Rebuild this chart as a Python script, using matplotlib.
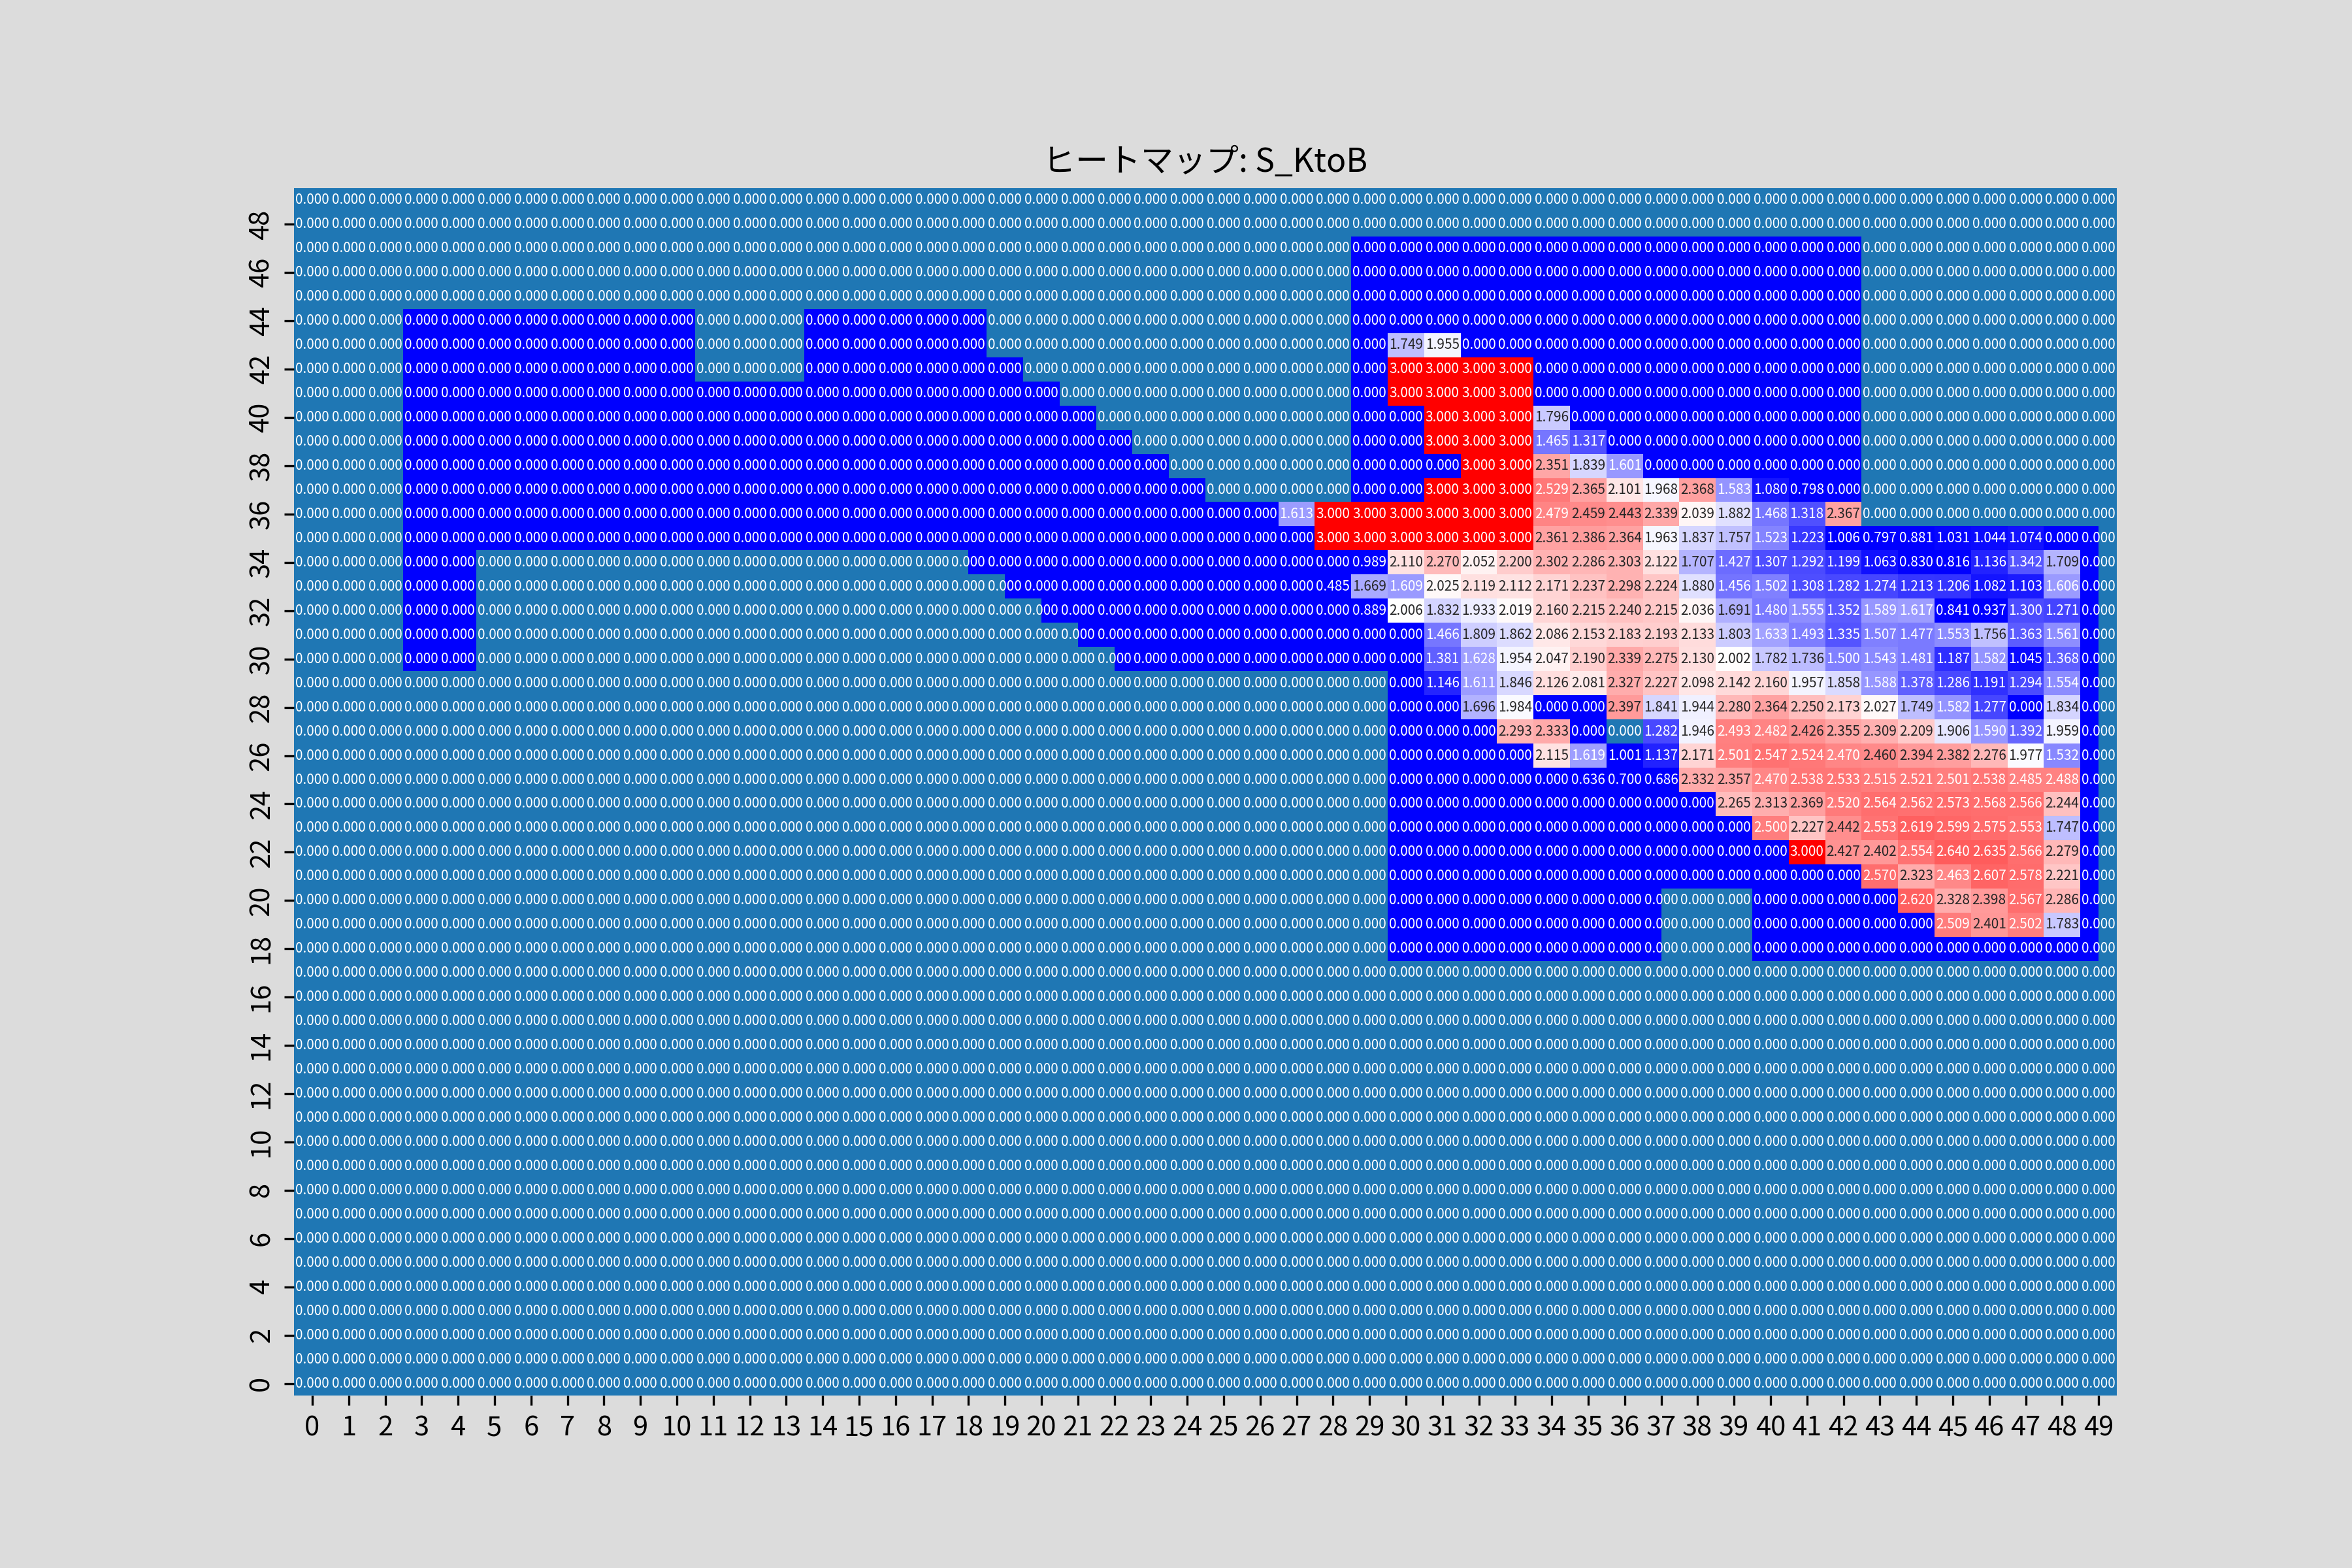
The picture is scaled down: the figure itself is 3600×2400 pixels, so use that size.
"""
Mapa de calor S_KtoB: dominio (azul) sobre fondo fuera de dominio, con valores anotados.
"""

import matplotlib
matplotlib.use("Agg")
import matplotlib.pyplot as plt
import numpy as np
from matplotlib.colors import ListedColormap, Normalize, to_rgb

plt.rcParams["font.family"] = ["Noto Sans CJK JP", "DejaVu Sans"]

N_FILAS = 50
N_COLS = 50
TITULO = "ヒートマップ: S_KtoB"

COLOR_FONDO_FIG = "#dcdcdc"
COLOR_FUERA = "#1f77b4"
COLOR_DOMINIO = "#0000ff"
VMIN, VMAX = 1.0, 3.0

# =============================================================================
# DATOS
# =============================================================================

# tramos del dominio por fila (columna inicial, columna final exclusiva; hay medias celdas)
filas_dominio = list(range(18, 48))
tramos_dominio = [
    [(30, 37.5), (40, 49.5)],                 # 18
    [(30, 37.5), (40, 49.5)],                 # 19
    [(30, 37.5), (40, 49.5)],                 # 20
    [(30, 49.5)],                             # 21
    [(30, 49.5)],                             # 22
    [(30, 49.5)],                             # 23
    [(30, 49.5)],                             # 24
    [(30, 49.5)],                             # 25
    [(30, 49.5)],                             # 26
    [(30, 36), (37, 49.5)],                   # 27
    [(30, 49.5)],                             # 28
    [(30, 49.5)],                             # 29
    [(3, 5), (22.5, 49.5)],                   # 30
    [(3, 5), (21.5, 49.5)],                   # 31
    [(3, 5), (20.5, 49.5)],                   # 32
    [(3, 5), (19.5, 49.5)],                   # 33
    [(3, 5), (18.5, 49.5)],                   # 34
    [(3, 49.5)],                              # 35
    [(3, 43)],                                # 36
    [(3, 25), (29, 43)],                      # 37
    [(3, 24), (29, 43)],                      # 38
    [(3, 23), (29, 43)],                      # 39
    [(3, 22), (29, 43)],                      # 40
    [(3, 21), (29, 43)],                      # 41
    [(3, 11), (14, 20), (29, 43)],            # 42
    [(3, 11), (14, 19), (29, 43)],            # 43
    [(3, 11), (14, 19), (29, 43)],            # 44
    [(29, 43)],                               # 45
    [(29, 43)],                               # 46
    [(29, 43)],                               # 47
]

# bloque con valores no nulos: filas 43 -> 19, columnas 27 -> 48
FILA_SUPERIOR = 43
COL_INICIO = 27
valores_bloque = [
    [0, 0, 0, 1.749, 1.955, 0, 0, 0, 0, 0, 0, 0, 0, 0, 0, 0, 0, 0, 0, 0, 0, 0],
    [0, 0, 0, 3.000, 3.000, 3.000, 3.000, 0, 0, 0, 0, 0, 0, 0, 0, 0, 0, 0, 0, 0, 0, 0],
    [0, 0, 0, 3.000, 3.000, 3.000, 3.000, 0, 0, 0, 0, 0, 0, 0, 0, 0, 0, 0, 0, 0, 0, 0],
    [0, 0, 0, 0, 3.000, 3.000, 3.000, 1.796, 0, 0, 0, 0, 0, 0, 0, 0, 0, 0, 0, 0, 0, 0],
    [0, 0, 0, 0, 3.000, 3.000, 3.000, 1.465, 1.317, 0, 0, 0, 0, 0, 0, 0, 0, 0, 0, 0, 0, 0],
    [0, 0, 0, 0, 0, 3.000, 3.000, 2.351, 1.839, 1.601, 0, 0, 0, 0, 0, 0, 0, 0, 0, 0, 0, 0],
    [0, 0, 0, 0, 3.000, 3.000, 3.000, 2.529, 2.365, 2.101, 1.968, 2.368, 1.583, 1.080, 0.798,
     0, 0, 0, 0, 0, 0, 0],
    [1.613, 3.000, 3.000, 3.000, 3.000, 3.000, 3.000, 2.479, 2.459, 2.443, 2.339, 2.039, 1.882,
     1.468, 1.318, 2.367, 0, 0, 0, 0, 0, 0],
    [0, 3.000, 3.000, 3.000, 3.000, 3.000, 3.000, 2.361, 2.386, 2.364, 1.963, 1.837, 1.757,
     1.523, 1.223, 1.006, 0.797, 0.881, 1.031, 1.044, 1.074, 0],
    [0, 0, 0.989, 2.110, 2.270, 2.052, 2.200, 2.302, 2.286, 2.303, 2.122, 1.707, 1.427, 1.307,
     1.292, 1.199, 1.063, 0.830, 0.816, 1.136, 1.342, 1.709],
    [0, 0.485, 1.669, 1.609, 2.025, 2.119, 2.112, 2.171, 2.237, 2.298, 2.224, 1.880, 1.456, 1.502,
     1.308, 1.282, 1.274, 1.213, 1.206, 1.082, 1.103, 1.606],
    [0, 0, 0.889, 2.006, 1.832, 1.933, 2.019, 2.160, 2.215, 2.240, 2.215, 2.036, 1.691, 1.480,
     1.555, 1.352, 1.589, 1.617, 0.841, 0.937, 1.300, 1.271],
    [0, 0, 0, 0, 1.466, 1.809, 1.862, 2.086, 2.153, 2.183, 2.193, 2.133, 1.803, 1.633, 1.493,
     1.335, 1.507, 1.477, 1.553, 1.756, 1.363, 1.561],
    [0, 0, 0, 0, 1.381, 1.628, 1.954, 2.047, 2.190, 2.339, 2.275, 2.130, 2.002, 1.782, 1.736,
     1.500, 1.543, 1.481, 1.187, 1.582, 1.045, 1.368],
    [0, 0, 0, 0, 1.146, 1.611, 1.846, 2.126, 2.081, 2.327, 2.227, 2.098, 2.142, 2.160, 1.957,
     1.858, 1.588, 1.378, 1.286, 1.191, 1.294, 1.554],
    [0, 0, 0, 0, 0, 1.696, 1.984, 0, 0, 2.397, 1.841, 1.944, 2.280, 2.364, 2.250, 2.173, 2.027,
     1.749, 1.582, 1.277, 0, 1.834],
    [0, 0, 0, 0, 0, 0, 2.293, 2.333, 0, 0, 1.282, 1.946, 2.493, 2.482, 2.426, 2.355, 2.309,
     2.209, 1.906, 1.590, 1.392, 1.959],
    [0, 0, 0, 0, 0, 0, 0, 2.115, 1.619, 1.001, 1.137, 2.171, 2.501, 2.547, 2.524, 2.470, 2.460,
     2.394, 2.382, 2.276, 1.977, 1.532],
    [0, 0, 0, 0, 0, 0, 0, 0, 0.636, 0.700, 0.686, 2.332, 2.357, 2.470, 2.538, 2.533, 2.515,
     2.521, 2.501, 2.538, 2.485, 2.488],
    [0, 0, 0, 0, 0, 0, 0, 0, 0, 0, 0, 0, 2.265, 2.313, 2.369, 2.520, 2.564, 2.562, 2.573, 2.568,
     2.566, 2.244],
    [0, 0, 0, 0, 0, 0, 0, 0, 0, 0, 0, 0, 0, 2.500, 2.227, 2.442, 2.553, 2.619, 2.599, 2.575,
     2.553, 1.747],
    [0, 0, 0, 0, 0, 0, 0, 0, 0, 0, 0, 0, 0, 0, 3.000, 2.427, 2.402, 2.554, 2.640, 2.635, 2.566,
     2.279],
    [0, 0, 0, 0, 0, 0, 0, 0, 0, 0, 0, 0, 0, 0, 0, 0, 2.570, 2.323, 2.463, 2.607, 2.578, 2.221],
    [0, 0, 0, 0, 0, 0, 0, 0, 0, 0, 0, 0, 0, 0, 0, 0, 0, 2.620, 2.328, 2.398, 2.567, 2.286],
    [0, 0, 0, 0, 0, 0, 0, 0, 0, 0, 0, 0, 0, 0, 0, 0, 0, 0, 2.509, 2.401, 2.502, 1.783],
]

etiquetas_x = [str(i) for i in range(N_COLS)]
etiquetas_y = [str(i) for i in range(0, N_FILAS, 2)]


# =============================================================================
# CONSTRUCCIÓN DE MATRICES
# =============================================================================

def construir_mascara() -> np.ndarray:
    """Máscara del dominio a media celda de resolución horizontal (filas x 2*columnas)."""
    mascara = np.zeros((N_FILAS, N_COLS * 2))
    for fila, tramos in zip(filas_dominio, tramos_dominio):
        for ini, fin in tramos:
            mascara[fila, int(ini * 2):int(fin * 2)] = 1
    return mascara


def construir_valores() -> np.ndarray:
    valores = np.zeros((N_FILAS, N_COLS))
    for k, fila_vals in enumerate(valores_bloque):
        fila = FILA_SUPERIOR - k
        valores[fila, COL_INICIO:COL_INICIO + len(fila_vals)] = fila_vals
    return valores


def _luminancia(color) -> float:
    rgb = np.array(to_rgb(color))
    rgb = np.where(rgb <= 0.03928, rgb / 12.92, ((rgb + 0.055) / 1.055) ** 2.4)
    return float(rgb.dot([0.2126, 0.7152, 0.0722]))


# =============================================================================
# GRÁFICO
# =============================================================================

def graficar():
    mascara = construir_mascara()
    valores = construir_valores()
    cmap = plt.get_cmap("bwr")
    norma = Normalize(vmin=VMIN, vmax=VMAX)

    fig = plt.figure(figsize=(12, 8), dpi=300, facecolor=COLOR_FONDO_FIG)
    ax = fig.add_subplot(111)

    ax.pcolormesh(np.arange(0, N_COLS + 0.25, 0.5), np.arange(N_FILAS + 1), mascara,
                  cmap=ListedColormap([COLOR_FUERA, COLOR_DOMINIO]), vmin=0, vmax=1,
                  linewidth=0, antialiased=False)
    ax.pcolormesh(np.arange(N_COLS + 1), np.arange(N_FILAS + 1), np.ma.masked_equal(valores, 0),
                  cmap=cmap, norm=norma, linewidth=0, antialiased=False)

    for fila in range(N_FILAS):
        for col in range(N_COLS):
            valor = valores[fila, col]
            if valor > 0:
                fondo = cmap(norma(valor))
            elif mascara[fila, col * 2] > 0:
                fondo = COLOR_DOMINIO
            else:
                fondo = COLOR_FUERA
            color_txt = ".15" if _luminancia(fondo) > 0.408 else "w"
            ax.text(col + 0.5, fila + 0.5, f"{valor:.3f}", ha="center", va="center",
                    fontsize=5, color=color_txt)

    ax.set_xlim(0, N_COLS)
    ax.set_ylim(0, N_FILAS)
    ax.set_xticks(np.arange(N_COLS) + 0.5)
    ax.set_xticklabels(etiquetas_x, fontsize=10)
    ax.set_yticks(np.arange(0, N_FILAS, 2) + 0.5)
    ax.set_yticklabels(etiquetas_y, fontsize=10, rotation=90, va="center")
    for lado in ax.spines.values():
        lado.set_visible(False)
    ax.set_title(TITULO, fontsize=12)

    fig.savefig("out.png", dpi=300, facecolor=COLOR_FONDO_FIG)
    plt.close(fig)


if __name__ == "__main__":
    graficar()
